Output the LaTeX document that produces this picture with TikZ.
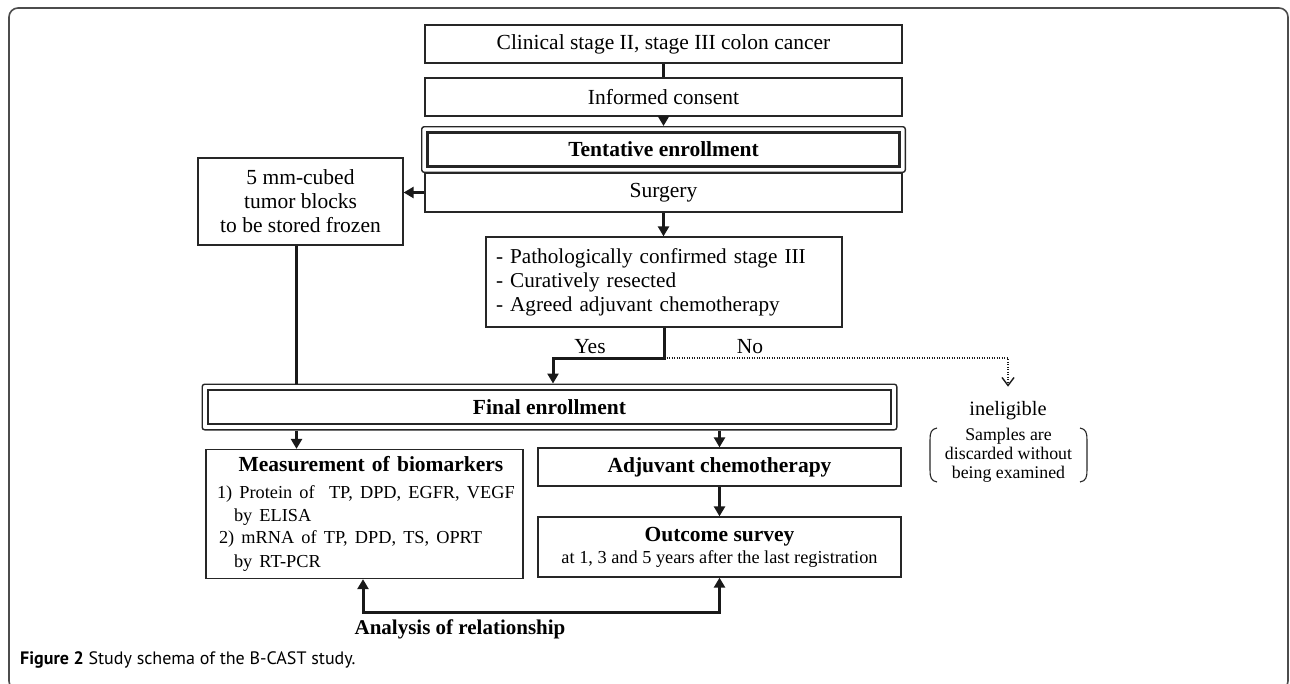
\documentclass[tikz,border=0pt]{standalone}
\usepackage{fontspec}
\setmainfont{Liberation Serif}
\newfontfamily\capfont{PT Sans}
\usetikzlibrary{arrows.meta,calc,fit}
\newcommand\mainfs{\fontsize{21.5}{24}\selectfont}
\newcommand\smallfs{\fontsize{18.3}{22.3}\selectfont}
\newcommand\tinyfs{\fontsize{17.8}{19}\selectfont}
\begin{document}
\begin{tikzpicture}[x=1pt,y=-1pt,
  box/.style={draw=black!85,line width=1.3pt,rectangle,inner sep=0pt,font=\mainfs,align=center},
  dbox/.style={box,line width=2.6pt,font=\mainfs\bfseries},
  outerframe/.style={draw=black!85,line width=1.4pt,rounded corners=2.5pt,inner sep=4.5pt,rectangle},
  conn/.style={line width=3pt,draw=black!90},
  tipA/.tip={Triangle[length=10pt,width=11pt]},
  arr/.style={conn,-tipA},
  dotarr/.style={line width=1.2pt,dash pattern=on 1.2pt off 1.3pt,draw=black!90,-{Straight Barb[length=8pt,width=12pt,line width=1.4pt]}},
  paren/.style={line width=1.1pt,draw=black!85},
  lbl/.style={inner sep=1pt,font=\mainfs},
]
\useasboundingbox (0,0) rectangle (1290,683);
\draw[draw=black!70,line width=1.6pt,rounded corners=9pt] (9,8) rectangle (1288,690);

% boxes
\node[box,minimum width=477,minimum height=38] (c1) at (663.5,44) {Clinical stage II, stage III colon cancer};
\node[box,minimum width=477,minimum height=38] (ic) at (663.5,97) {Informed consent};
\node[dbox,minimum width=472,minimum height=34] (te) at (663.5,149.5) {Tentative enrollment};
\node[outerframe,fit=(te)] (teo) {};
\node[box,minimum width=477,minimum height=39] (su) at (663.5,192.5) {Surgery};
\node[box,minimum width=205,minimum height=87] (fz) at (300.5,201.5) {5 mm-cubed\\tumor blocks\\to be stored frozen};
\node[box,minimum width=356,minimum height=90,text width=336,align=left,font=\fontsize{21.2}{24}\selectfont] (pa) at (664,282)
  {- Pathologically confirmed stage III\\- Curatively resected\\- Agreed adjuvant chemotherapy};
\node[dbox,minimum width=683,minimum height=34] (fi) at (549.5,407) {Final enrollment};
\node[outerframe,fit=(fi)] (fio) {};
\node[box,minimum width=317,minimum height=129,text width=313,align=left] (me) at (364.5,514)
  {\makebox[\linewidth][c]{\hspace{13pt}\textbf{Measurement of biomarkers}}\\[5pt]
   \smallfs\hspace*{9pt}1) Protein of\ \ TP, DPD, EGFR, VEGF\\
   \hspace*{26pt}by ELISA\\
   \hspace*{11pt}2) mRNA of TP, DPD, TS, OPRT\\
   \hspace*{26pt}by RT-PCR};
\node[box,minimum width=363,minimum height=38,font=\mainfs\bfseries] (ad) at (719.5,467) {Adjuvant chemotherapy};
\node[box,minimum width=363,minimum height=60] (oc) at (719.5,547) {\textbf{Outcome survey}\\[-2pt]{\smallfs at 1, 3 and 5 years after the last registration}};

% labels
\node[lbl,anchor=base] (yes) at (590,353) {Yes};
\node[lbl,anchor=base] (no) at (750,353) {No};
\node[lbl,anchor=base,font=\fontsize{20.4}{22}\selectfont] (ine) at (1008,415) {ineligible};
\node[inner sep=0pt,font=\tinyfs,align=center] (sm) at (1008.5,455) {Samples are\\discarded without\\being examined};
\node[lbl,anchor=base,font=\fontsize{21}{24}\selectfont\bfseries] (an) at (460,634) {Analysis of relationship};
\node[anchor=base west,inner sep=0pt,font=\capfont\fontsize{18}{20}\selectfont] (cap) at (20,664) {\textbf{Figure 2} Study schema of the B-CAST study.};

% parentheses
\draw[paren] (937,428) .. controls (931,429) and (930,433) .. (930,440) -- (930,470) .. controls (930,477) and (931,481) .. (937,482);
\draw[paren] (1080,428) .. controls (1086,429) and (1087,433) .. (1087,440) -- (1087,470) .. controls (1087,477) and (1086,481) .. (1080,482);

% connectors
\coordinate (lx) at (296.5,0);
\coordinate (yx) at (553,0);
\coordinate (sp) at (664,358);
\coordinate (bl) at (363,612);
\coordinate (br) at (719.5,612);
\draw[conn] (c1.south) -- (ic.north);
\draw[arr] (ic.south) -- (teo.north);
\draw[arr] (su.west) -- (su.west -| fz.east);
\draw[arr] (su.south) -- (su.south |- pa.north);
\draw[conn] (fz.south -| lx) -- (fio.north -| lx);
\draw[arr] (pa.south) -- (sp) -| (fio.north -| yx);
\draw[dotarr] (sp) -| ([yshift=13pt]ine.north);
\draw[arr] (fio.south -| lx) -- (me.north -| lx);
\draw[arr] (fio.south -| ad.north) -- (ad.north);
\draw[arr] (ad.south) -- (oc.north);
\draw[conn,tipA-tipA] (me.south -| bl) -- (bl) -- (br) -- (oc.south);
\end{tikzpicture}
\end{document}
